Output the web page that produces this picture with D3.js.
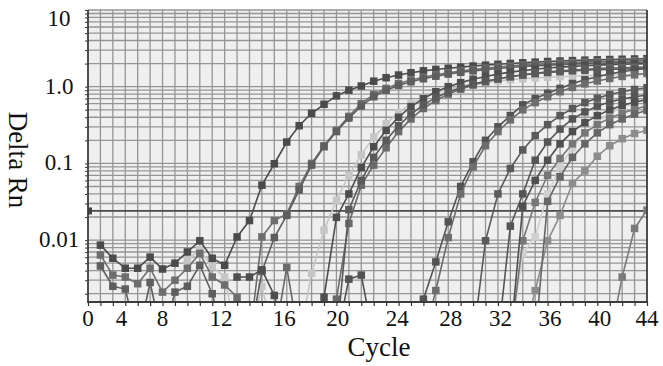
<!DOCTYPE html>
<html>
<head>
<meta charset="utf-8">
<script src="https://cdn.jsdelivr.net/npm/d3@7"></script>
<style>
  html, body { margin: 0; padding: 0; background: #fff; }
  svg { display: block; }
  text { font-family: "Liberation Serif", "Times New Roman", serif; fill: #111; }
</style>
</head>
<body>
<div id="chart"></div>
<script>
// values (Delta Rn per cycle)
const cycleCount = 45
const xTickLabels = ["0", "4", "8", "12", "16", "20", "24", "28", "32", "36", "40", "44"]
// the printed labels are not evenly spaced over the cycle grid
const xTickAt = [0, 2.7, 6, 10.7, 15.8, 20.1, 24.9, 29.2, 33.2, 37.2, 41.2, 45]
const yTickValues = [10, 1, 0.1, 0.01]
const yTickLabels = ["10", "1.0", "0.1", "0.01"]
const threshold = 0.024

// each run: first cycle, then one value per cycle (0.0005 = below the plot)
const runA = [0.0086, 0.0058, 0.0043, 0.0043, 0.006, 0.0042, 0.005, 0.007, 0.0098, 0.0058, 0.0047, 0.011, 0.018, 0.052, 0.099, 0.19, 0.31, 0.45, 0.59, 0.76, 0.9, 1.02, 1.18, 1.31, 1.42, 1.52, 1.61, 1.68, 1.74, 1.8, 1.86, 1.91, 1.96, 2.01, 2.05, 2.09, 2.13, 2.16, 2.19, 2.22, 2.24, 2.26, 2.28, 2.3, 2.32]
const runB = [0.0064, 0.0035, 0.0033, 0.0027, 0.0043, 0.0021, 0.003, 0.0043, 0.0067, 0.0033, 0.0026, 0.0018, 0.0005, 0.011, 0.018, 0.022, 0.05, 0.1, 0.17, 0.27, 0.41, 0.6, 0.79, 0.95, 1.1, 1.22, 1.33, 1.43, 1.52, 1.6, 1.67, 1.74, 1.8, 1.86, 1.91, 1.95, 1.99, 2.03, 2.06, 2.09, 2.12, 2.14, 2.16, 2.18, 2.2]
const runB2 = [0.0046, 0.0025, 0.0023, 0.0005, 0.0028, 0.0005, 0.0021, 0.0025, 0.0047, 0.002, 0.0005, 0.0005, 0.0005, 0.0039, 0.0108, 0.021, 0.045, 0.095, 0.165, 0.26, 0.39, 0.56, 0.74, 0.9, 1.04, 1.16, 1.27, 1.37, 1.46, 1.54, 1.61, 1.67, 1.73, 1.78, 1.83, 1.87, 1.91, 1.94, 1.97, 2.0, 2.02, 2.04, 2.06, 2.08, 2.1]
const runC = [0.0033, 0.0033, 0.0041, 0.0019, 0.0005, 0.0005, 0.0005, 0.0018, 0.0198, 0.04, 0.088, 0.165, 0.27, 0.4, 0.55, 0.7, 0.86, 1.0, 1.13, 1.25, 1.36, 1.46, 1.55, 1.62, 1.69, 1.75, 1.8, 1.84, 1.88, 1.91, 1.94, 1.96, 1.98, 2.0]
const runD = [0.0005, 0.0044, 0.0005, 0.0005, 0.0005, 0.0017, 0.0165, 0.052, 0.095, 0.16, 0.26, 0.38, 0.52, 0.66, 0.8, 0.93, 1.05, 1.16, 1.26, 1.35, 1.43, 1.5, 1.56, 1.61, 1.65, 1.69, 1.72, 1.75, 1.77, 1.79, 1.8]
const runE = [0.0005, 0.025, 0.06, 0.12, 0.2, 0.31, 0.44, 0.58, 0.72, 0.85, 0.97, 1.08, 1.18, 1.27, 1.35, 1.42, 1.48, 1.53, 1.57, 1.61, 1.64, 1.66, 1.68, 1.7, 1.71, 1.72]
const runL1 = [0.0055, 0.0075, 0.0045, 0.0033, 0.0005, 0.0005, 0.0025, 0.0005, 0.0005, 0.0005, 0.0037, 0.0135, 0.033, 0.07, 0.13, 0.22, 0.33, 0.46, 0.6, 0.72, 0.83, 0.93, 1.01, 1.08, 1.14, 1.19, 1.23, 1.27, 1.3, 1.33, 1.35, 1.37, 1.39, 1.41, 1.42, 1.43, 1.44, 1.45]
const runF1 = [0.0005, 0.0031, 0.0035, 0.0005, 0.0005, 0.0005, 0.0005, 0.0017, 0.0052, 0.0173, 0.05, 0.105, 0.2, 0.3, 0.42, 0.58, 0.7, 0.82, 0.95, 1.1, 1.23, 1.35, 1.47, 1.57, 1.66, 1.74]
const runF2 = [0.0005, 0.0022, 0.0108, 0.04, 0.09, 0.17, 0.26, 0.37, 0.5, 0.62, 0.74, 0.86, 0.98, 1.09, 1.19, 1.28, 1.36, 1.43, 1.5]
const runG1 = [0.0005, 0.0098, 0.04, 0.086, 0.15, 0.23, 0.32, 0.42, 0.52, 0.62, 0.71, 0.79, 0.86, 0.92, 0.97]
const runG2 = [0.0005, 0.0152, 0.04, 0.11, 0.19, 0.28, 0.38, 0.47, 0.56, 0.63, 0.69, 0.74, 0.78]
const runG3 = [0.0005, 0.0098, 0.031, 0.07, 0.116, 0.18, 0.25, 0.32, 0.39, 0.45, 0.51, 0.56]
const runG3b = [0.0005, 0.0277, 0.06, 0.11, 0.18, 0.26, 0.34, 0.42, 0.5, 0.57, 0.63, 0.68]
const runG4 = [0.0005, 0.0022, 0.0098, 0.021, 0.055, 0.08, 0.124, 0.17, 0.21, 0.245, 0.27]
const runG5 = [0.0005, 0.032, 0.067, 0.12, 0.18, 0.25, 0.32, 0.38, 0.44, 0.49]
const runL2 = [0.0005, 0.0067, 0.011, 0.04, 0.09, 0.16, 0.25, 0.35, 0.45, 0.54, 0.62, 0.68]
const runH = [0.0005, 0.0033, 0.0142, 0.0246]

const firstCycle = { L1: 8, L2: 34, G4: 35, A: 1, B: 1, B2: 1, C: 12, D: 15, E: 20, F1: 20, F2: 27, G1: 31, G2: 33, G3: 34, G3b: 34, G5: 36, H: 42 }
const runValues = { L1: runL1, L2: runL2, G4: runG4, A: runA, B: runB, B2: runB2, C: runC, D: runD, E: runE, F1: runF1, F2: runF2, G1: runG1, G2: runG2, G3: runG3, G3b: runG3b, G5: runG5, H: runH }

// grey shade of each run
const shade = { L1: "#c6c6c6", L2: "#d0d0d0", G4: "#8c8c8c", A: "#4b4b4b", B: "#6e6e6e", B2: "#5e5e5e", C: "#4e4e4e", D: "#6a6a6a", E: "#5a5a5a", F1: "#535353", F2: "#6d6d6d", G1: "#5a5a5a", G2: "#555555", G3: "#777777", G3b: "#4f4f4f", G5: "#666666", H: "#7a7a7a" }

const width = 663
const height = 366
const plot = { left: 88, right: 647, top: 10, bottom: 302 }

const svg = d3.select("#chart")
              .append("svg")
              .attr("width", width)
              .attr("height", height)

const x = d3.scaleLinear()
            .domain([0, cycleCount])
            .range([plot.left, plot.right])

const y = d3.scaleLog()
            .domain([0.00156, 10])
            .range([plot.bottom, plot.top])

// plot background
svg.append("rect")
   .attr("x", plot.left).attr("y", plot.top)
   .attr("width", plot.right - plot.left).attr("height", plot.bottom - plot.top)
   .attr("fill", "#efefef")

// grid: one vertical line per cycle, log minor lines
const grid = svg.append("g").attr("stroke", "#959595").attr("stroke-width", 1.3)
grid.selectAll("line.v")
    .data(d3.range(1, cycleCount))
    .join("line")
    .attr("class", "v")
    .attr("x1", d => x(d)).attr("x2", d => x(d))
    .attr("y1", plot.top).attr("y2", plot.bottom)
grid.selectAll("line.h")
    .data(y.ticks())
    .join("line")
    .attr("class", "h")
    .attr("x1", plot.left).attr("x2", plot.right)
    .attr("y1", d => y(d)).attr("y2", d => y(d))

svg.append("clipPath").attr("id", "clip")
   .append("rect")
   .attr("x", plot.left).attr("y", plot.top)
   .attr("width", plot.right - plot.left).attr("height", plot.bottom - plot.top)

// threshold
svg.append("line")
   .attr("x1", x(0)).attr("x2", x(cycleCount))
   .attr("y1", y(threshold)).attr("y2", y(threshold))
   .attr("stroke", "#4a4a4a").attr("stroke-width", 1.8)
svg.append("rect")
   .attr("x", x(0)).attr("y", y(threshold) - 3.5)
   .attr("width", 4).attr("height", 7)
   .attr("fill", "#444")

// amplification runs
const runs = Object.keys(runValues).map(key => ({
  key,
  points: runValues[key].map((v, i) => ({ cycle: firstCycle[key] + i, value: v }))
}))

const line = d3.line()
               .x(d => x(d.cycle))
               .y(d => y(d.value))

const layer = svg.append("g").attr("clip-path", "url(#clip)")

const runG = layer.selectAll("g.run")
                  .data(runs)
                  .join("g")
                  .attr("class", "run")

runG.append("path")
    .attr("d", d => line(d.points))
    .attr("fill", "none")
    .attr("stroke", d => shade[d.key])
    .attr("stroke-width", 1.6)

runG.selectAll("rect")
    .data(d => d.points.filter(p => p.value >= y.domain()[0]).map(p => ({ ...p, key: d.key })))
    .join("rect")
    .attr("x", d => x(d.cycle) - 3.75)
    .attr("y", d => y(d.value) - 3.75)
    .attr("width", 7.5)
    .attr("height", 7.5)
    .attr("fill", d => shade[d.key])

// frame: left, bottom and right edges are dark
svg.append("path")
   .attr("d", `M${plot.left},${plot.top}V${plot.bottom}H${plot.right}V${plot.top}`)
   .attr("fill", "none")
   .attr("stroke", "#3c3c3c")
   .attr("stroke-width", 1.8)

// tick marks
svg.append("g")
   .attr("transform", `translate(0,${plot.bottom})`)
   .call(d3.axisBottom(x).tickValues(d3.range(0, cycleCount + 1)).tickSize(4).tickFormat(""))
   .call(g => g.select(".domain").remove())
   .call(g => g.selectAll("line").attr("stroke", "#333").attr("stroke-width", 1.2))

svg.append("g")
   .attr("transform", `translate(${plot.left},0)`)
   .call(d3.axisLeft(y).tickValues(y.ticks()).tickSize(3).tickFormat(""))
   .call(g => g.select(".domain").remove())
   .call(g => g.selectAll("line").attr("stroke", "#444").attr("stroke-width", 1.1))

// tick labels
svg.append("g")
   .selectAll("text")
   .data(xTickAt)
   .join("text")
   .attr("x", d => x(d))
   .attr("y", 326)
   .attr("text-anchor", "middle")
   .attr("font-size", 23)
   .text((d, i) => xTickLabels[i])

svg.append("g")
   .selectAll("text")
   .data(yTickValues)
   .join("text")
   .attr("x", 59)
   .attr("y", d => Math.max(y(d), 19) + 7)
   .attr("text-anchor", "middle")
   .attr("font-size", 23)
   .text((d, i) => yTickLabels[i])

// axis titles
svg.append("text")
   .attr("x", 379)
   .attr("y", 356)
   .attr("text-anchor", "middle")
   .attr("font-size", 27)
   .text("Cycle")

svg.append("text")
   .attr("transform", "translate(9,160) rotate(90)")
   .attr("text-anchor", "middle")
   .attr("font-size", 27)
   .text("Delta Rn")
</script>
</body>
</html>
